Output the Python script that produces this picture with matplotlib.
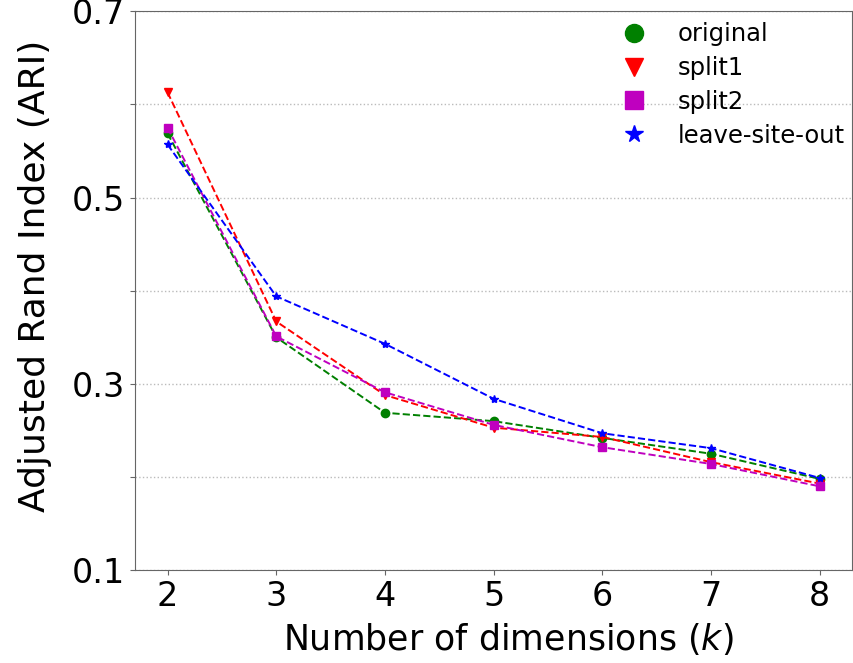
import matplotlib
matplotlib.use("Agg")
import matplotlib.pyplot as plt
from matplotlib.lines import Line2D

# number of dimensions k
dims = [2, 3, 4, 5, 6, 7, 8]

# ARI per split
original = [0.569, 0.350, 0.269, 0.260, 0.242, 0.225, 0.198]
split1 = [0.613, 0.367, 0.288, 0.253, 0.243, 0.216, 0.193]
split2 = [0.575, 0.351, 0.291, 0.256, 0.232, 0.214, 0.190]
leave_site_out = [0.557, 0.394, 0.343, 0.284, 0.247, 0.231, 0.199]

series_names = ["original", "split1", "split2", "leave-site-out"]
series_colors = ["g", "r", "m", "b"]
series_markers = ["o", "v", "s", "*"]
y_ticks = [0.1, 0.2, 0.3, 0.4, 0.5, 0.6, 0.7]
y_labels = ["0.1", "", "0.3", "", "0.5", "", "0.7"]

fig = plt.figure(figsize=(8.54, 6.63), dpi=100)
ax = fig.add_axes([0.158, 0.140, 0.840, 0.843])

all_series = [original, split1, split2, leave_site_out]
for vals, name, c, m in zip(all_series, series_names, series_colors, series_markers):
    ax.plot(dims, vals, linestyle="--", color=c, marker=m, markersize=6,
            linewidth=1.4, label=name)

ax.set_xlim(1.7, 8.3)
ax.set_ylim(0.1, 0.7)
ax.set_xticks(dims)
ax.set_yticks(y_ticks)
ax.set_yticklabels(y_labels)
ax.yaxis.grid(True, linestyle=":", color="#bbbbbb", linewidth=1)
ax.tick_params(labelsize=24, color="#666666")
for s in ax.spines.values():
    s.set_color("#666666")

ax.set_xlabel("Number of dimensions ($k$)", fontsize=25)
ax.set_ylabel("Adjusted Rand Index (ARI)", fontsize=26)
# the labels sit a bit off-centre in the original figure
ax.xaxis.set_label_coords(0.521, -0.091)
ax.yaxis.set_label_coords(-0.116, 0.527)

handles = [Line2D([], [], linestyle="none", marker=m, color=c, markersize=13)
           for c, m in zip(series_colors, series_markers)]
ax.legend(handles, series_names, loc="upper right", bbox_to_anchor=(1.0, 0.993),
          frameon=False, fontsize=17.5, handletextpad=0.8, borderpad=0.2,
          borderaxespad=0.1, labelspacing=0.4)

fig.savefig("out.png", dpi=100)
